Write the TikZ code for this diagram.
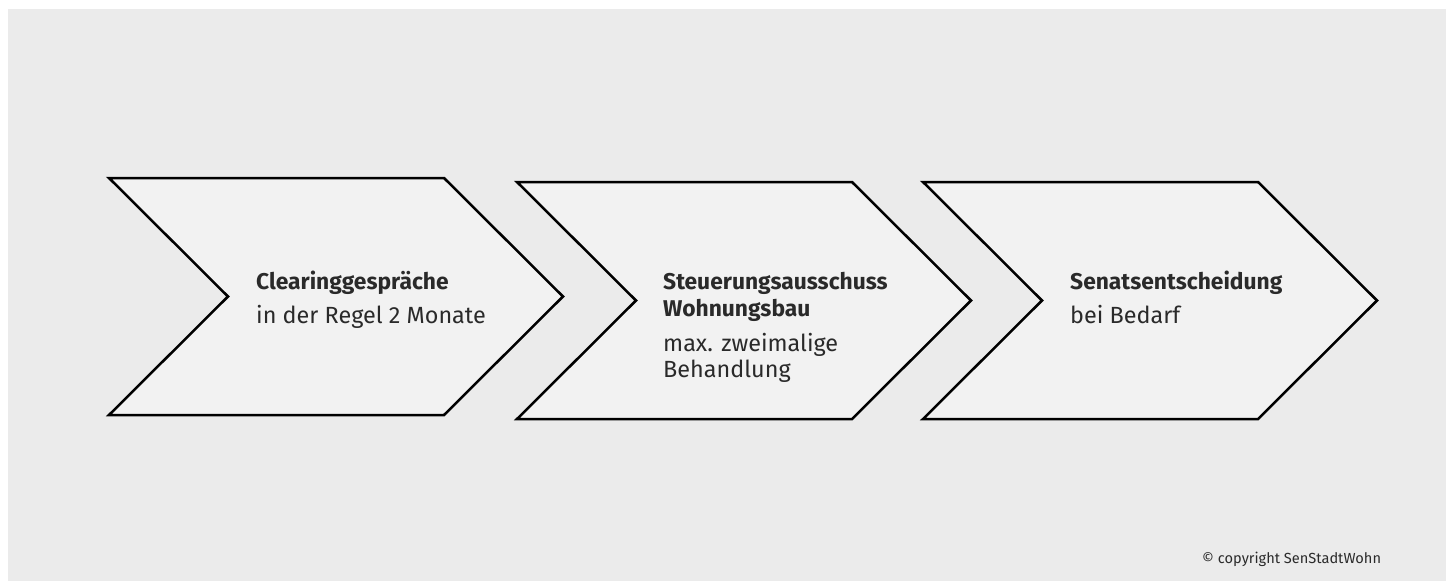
\documentclass[tikz,border=0pt]{standalone}
\usepackage{fontspec}
\setmainfont{Fira Sans}
\usepackage{tikz}
\definecolor{bggrey}{HTML}{EBEBEB}
\definecolor{boxgrey}{HTML}{F2F2F2}
\definecolor{textgrey}{HTML}{2A2A2A}
\tikzset{
  chevron/.style={draw=black, fill=boxgrey, line width=2.5pt, line join=miter},
  steptitle/.style={anchor=base west, inner sep=0pt, align=left, text=textgrey,
    font=\fontsize{22.8}{27}\selectfont\bfseries},
  stepnote/.style={anchor=base west, inner sep=0pt, align=left, text=textgrey,
    font=\fontsize{23.4}{25.5}\selectfont},
}

\begin{document}
\begin{tikzpicture}[x=1pt, y=-1pt]
  \useasboundingbox (0,0) rectangle (1453,581);
  % background panel
  \fill[bggrey] (8,9) rectangle (1446,581);
  % three process chevrons
  \foreach \x/\y in {109/178, 517/182, 923/182}
    \draw[chevron] (\x,\y) -- ++(335,0) -- ++(119,118.5) -- ++(-119,118.5)
      -- ++(-335,0) -- ++(119,-118.5) -- cycle;
  % step texts
  \node[steptitle] (clearing) at (256,289) {Clearinggespräche};
  \node[stepnote] (clearingnote) at (256,323) {in der Regel 2 Monate};
  \node[steptitle] (steuerung) at (663,316) {Steuerungsausschuss\\Wohnungsbau};
  \node[stepnote] (steuerungnote) at (663,377) {max. zweimalige\\Behandlung};
  \node[steptitle] (senat) at (1070,289) {Senatsentscheidung};
  \node[stepnote] (senatnote) at (1070,323) {bei Bedarf};
  % source line
  \node[anchor=base west, inner sep=0pt, text=textgrey, font=\fontsize{14.6}{17}\selectfont]
    (copyright) at (1202,563) {© copyright SenStadtWohn};
\end{tikzpicture}
\end{document}
